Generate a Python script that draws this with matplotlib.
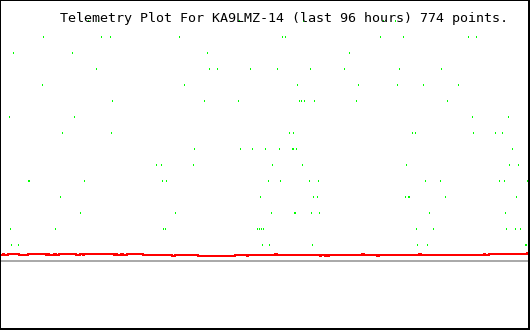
import matplotlib
matplotlib.use("Agg")
import matplotlib.pyplot as plt

TITLE = "Telemetry Plot For KA9LMZ-14 (last 96 hours) 774 points."

# green channel samples: time slot and level (16 units per step)
green_t = [88, 98, 239, 303, 383, 395,
           43, 101, 110, 179, 282, 285, 380, 403, 468, 476,
           13, 72, 207, 349,
           96, 209, 217, 250, 277, 310, 344, 399, 441,
           42, 184, 297, 358, 397, 423, 458,
           112, 204, 238, 299, 301, 304, 314, 356, 447,
           9, 74, 472, 508,
           62, 111, 289, 293, 412, 415, 473, 495, 502,
           194, 240, 252, 265, 279, 292, 293, 296, 512,
           156, 161, 193, 272, 302, 406, 509, 518,
           28, 29, 84, 162, 166, 268, 280, 309, 318, 425, 440, 499, 504, 527,
           60, 260, 313, 317, 405, 408, 409, 445, 516,
           80, 175, 271, 294, 295, 311, 319, 429, 505,
           10, 55, 163, 165, 257, 259, 261, 263, 416, 433, 506, 515, 520,
           11, 18, 262, 269, 312, 417, 427, 525, 526]
green_v = ([224] * 6 + [208] * 10 + [192] * 4 + [176] * 9 + [160] * 7 +
           [144] * 9 + [128] * 4 + [112] * 9 + [96] * 9 + [80] * 8 +
           [64] * 14 + [48] * 9 + [32] * 9 + [16] * 13 + [0] * 9)

# red channel: step changes (time slot where value changes, new value)
red_t = [1, 3, 4, 8, 19, 28, 46, 47, 49, 54, 56, 59, 76, 80, 83, 84,
         114, 115, 117, 121, 123, 127, 143, 172, 175, 198, 235, 247, 248,
         275, 277, 320, 321, 325, 326, 328, 329, 362, 364, 377, 379, 419,
         421, 484, 485, 489, 527, 528]
red_v = [-10, -9, -10, -9, -10, -9, -10, -9, -10, -9, -10, -9, -10, -9, -10, -9,
         -10, -9, -10, -9, -10, -9, -10, -11, -10, -11, -10, -11, -10,
         -9, -10, -11, -10, -11, -10, -11, -10, -9, -10, -11, -10, -9,
         -10, -9, -10, -9, -8, -8]

baseline = -16
t_end = 528

fig = plt.figure(figsize=(5.3, 3.3), dpi=100)
ax = fig.add_axes([0, 0, 1, 1])
ax.set_xlim(0, 530)
ax.set_ylim(-85, 245)

ax.bar(green_t, 2, bottom=[v - 1 for v in green_v], width=1, align="edge",
       color="#00ff00", linewidth=0, antialiased=False)
ax.plot([red_t[0], t_end], [baseline, baseline], color="#aaaaaa",
        linewidth=1.44, solid_capstyle="butt", antialiased=False)
ax.step(red_t, red_v, where="post", color="#ff0000", linewidth=1.44,
        solid_capstyle="butt", antialiased=False)

ax.set_xticks([])
ax.set_yticks([])
for side, lw in [("left", 1.44), ("top", 1.44), ("right", 2.88), ("bottom", 2.88)]:
    ax.spines[side].set_linewidth(lw)
    ax.spines[side].set_color("black")

fig.text(60 / 530, 1 - 22 / 330, TITLE, family="DejaVu Sans Mono",
         fontsize=9.6, ha="left", va="baseline", color="black")

plt.savefig("out.png", dpi=100)
plt.close()
